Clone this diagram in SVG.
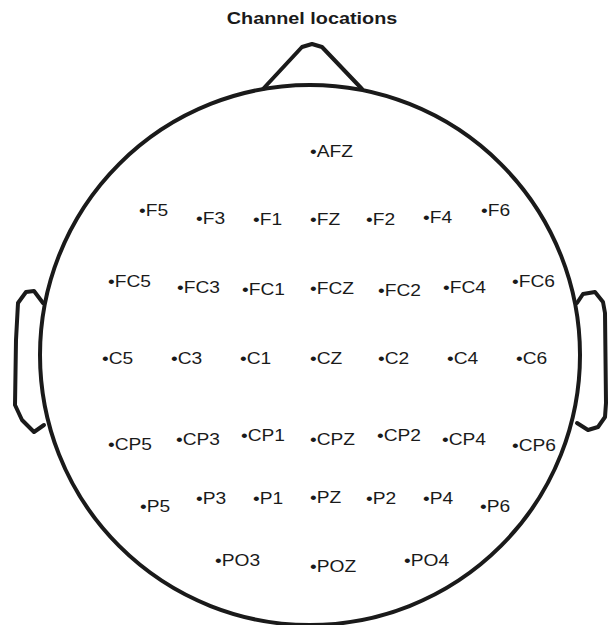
<svg xmlns="http://www.w3.org/2000/svg" width="613" height="625" viewBox="0 0 613 625">
  <style>
    .outline { fill: none; stroke: #1a1a1a; stroke-width: 4; stroke-linejoin: round; stroke-linecap: round; }
    .ch text { font-family: "Liberation Sans", Arial, Helvetica, sans-serif; font-size: 16px; fill: #1a1a1a; }
    .title { font-family: "Liberation Sans", Arial, Helvetica, sans-serif; font-size: 16.5px; font-weight: bold; fill: #1a1a1a; }
  </style>
  <rect width="613" height="625" fill="#ffffff"/>

  <!-- title -->
  <text class="title" transform="translate(312,24) scale(1.2,1)" text-anchor="middle">Channel locations</text>

  <!-- head outline: scalp, nose, ears -->
  <g id="head">
    <circle class="outline" cx="310" cy="355" r="270"/>
    <polyline class="outline" points="263,89 302,47 312,44 322,47 362,89"/>
    <polyline class="outline" points="43,303 34,291 26,292 18,303 16,340 15,405 22,420 34,432 44,425"/>
    <polyline class="outline" points="577,303 583,294 595,292 603,302 605,313 606,403 605,417 598,427 588,430 577,423"/>
  </g>

  <!-- electrode labels (bullet marks the electrode position) -->
  <g id="channels">
    <g id="AFZ" class="ch" transform="translate(310,157)"><text transform="scale(1.2,1)">•AFZ</text></g>

    <g id="F5" class="ch" transform="translate(139,216)"><text transform="scale(1.2,1)">•F5</text></g>
    <g id="F3" class="ch" transform="translate(196,224)"><text transform="scale(1.2,1)">•F3</text></g>
    <g id="F1" class="ch" transform="translate(253,225)"><text transform="scale(1.2,1)">•F1</text></g>
    <g id="FZ" class="ch" transform="translate(310,225)"><text transform="scale(1.2,1)">•FZ</text></g>
    <g id="F2" class="ch" transform="translate(366,225)"><text transform="scale(1.2,1)">•F2</text></g>
    <g id="F4" class="ch" transform="translate(423,223)"><text transform="scale(1.2,1)">•F4</text></g>
    <g id="F6" class="ch" transform="translate(481,216)"><text transform="scale(1.2,1)">•F6</text></g>

    <g id="FC5" class="ch" transform="translate(108,287)"><text transform="scale(1.2,1)">•FC5</text></g>
    <g id="FC3" class="ch" transform="translate(177,293)"><text transform="scale(1.2,1)">•FC3</text></g>
    <g id="FC1" class="ch" transform="translate(242,295)"><text transform="scale(1.2,1)">•FC1</text></g>
    <g id="FCZ" class="ch" transform="translate(310,294)"><text transform="scale(1.2,1)">•FCZ</text></g>
    <g id="FC2" class="ch" transform="translate(378,296)"><text transform="scale(1.2,1)">•FC2</text></g>
    <g id="FC4" class="ch" transform="translate(443,293)"><text transform="scale(1.2,1)">•FC4</text></g>
    <g id="FC6" class="ch" transform="translate(512,287)"><text transform="scale(1.2,1)">•FC6</text></g>

    <g id="C5" class="ch" transform="translate(102,364)"><text transform="scale(1.2,1)">•C5</text></g>
    <g id="C3" class="ch" transform="translate(171,364)"><text transform="scale(1.2,1)">•C3</text></g>
    <g id="C1" class="ch" transform="translate(240,364)"><text transform="scale(1.2,1)">•C1</text></g>
    <g id="CZ" class="ch" transform="translate(310,364)"><text transform="scale(1.2,1)">•CZ</text></g>
    <g id="C2" class="ch" transform="translate(378,364)"><text transform="scale(1.2,1)">•C2</text></g>
    <g id="C4" class="ch" transform="translate(447,364)"><text transform="scale(1.2,1)">•C4</text></g>
    <g id="C6" class="ch" transform="translate(516,364)"><text transform="scale(1.2,1)">•C6</text></g>

    <g id="CP5" class="ch" transform="translate(108,450)"><text transform="scale(1.2,1)">•CP5</text></g>
    <g id="CP3" class="ch" transform="translate(176,445)"><text transform="scale(1.2,1)">•CP3</text></g>
    <g id="CP1" class="ch" transform="translate(241,441)"><text transform="scale(1.2,1)">•CP1</text></g>
    <g id="CPZ" class="ch" transform="translate(310,445)"><text transform="scale(1.2,1)">•CPZ</text></g>
    <g id="CP2" class="ch" transform="translate(377,441)"><text transform="scale(1.2,1)">•CP2</text></g>
    <g id="CP4" class="ch" transform="translate(442,445)"><text transform="scale(1.2,1)">•CP4</text></g>
    <g id="CP6" class="ch" transform="translate(512,451)"><text transform="scale(1.2,1)">•CP6</text></g>

    <g id="P5" class="ch" transform="translate(140,512)"><text transform="scale(1.2,1)">•P5</text></g>
    <g id="P3" class="ch" transform="translate(196,504)"><text transform="scale(1.2,1)">•P3</text></g>
    <g id="P1" class="ch" transform="translate(253,504)"><text transform="scale(1.2,1)">•P1</text></g>
    <g id="PZ" class="ch" transform="translate(310,503)"><text transform="scale(1.2,1)">•PZ</text></g>
    <g id="P2" class="ch" transform="translate(366,504)"><text transform="scale(1.2,1)">•P2</text></g>
    <g id="P4" class="ch" transform="translate(423,504)"><text transform="scale(1.2,1)">•P4</text></g>
    <g id="P6" class="ch" transform="translate(480,512)"><text transform="scale(1.2,1)">•P6</text></g>

    <g id="PO3" class="ch" transform="translate(215,566)"><text transform="scale(1.2,1)">•PO3</text></g>
    <g id="POZ" class="ch" transform="translate(310,572)"><text transform="scale(1.2,1)">•POZ</text></g>
    <g id="PO4" class="ch" transform="translate(404,566)"><text transform="scale(1.2,1)">•PO4</text></g>
  </g>
</svg>
